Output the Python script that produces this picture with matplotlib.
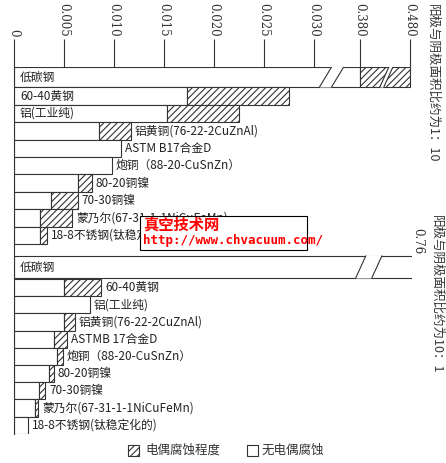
import numpy as np
import matplotlib
matplotlib.use("Agg")
import matplotlib.pyplot as plt
from matplotlib.patches import Polygon, Rectangle

plt.rcParams['font.family'] = ['Noto Sans CJK SC', 'DejaVu Sans']
plt.rcParams['hatch.linewidth'] = 0.8

labels_a = ["低碳钢", "60-40黄钢", "铝(工业纯)", "铝黄铜(76-22-2CuZnAl)", "ASTM B17合金D",
            "炮铜（88-20-CuSnZn）", "80-20铜镍", "70-30铜镍", "蒙乃尔(67-31-1-1NiCuFeMn)", "18-8不锈钢(钛稳定化的)"]
no_gal_a = [0.380, 0.0173, 0.0153, 0.0085, 0.0107, 0.0098, 0.0064, 0.0037, 0.0026, 0.0026]
total_a = [0.480, 0.0275, 0.0225, 0.0117, 0.0107, 0.0098, 0.0078, 0.0064, 0.0058, 0.0033]

labels_b = ["低碳钢", "60-40黄钢", "铝(工业纯)", "铝黄铜(76-22-2CuZnAl)", "ASTMB 17合金D",
            "炮铜（88-20-CuSnZn）", "80-20铜镍", "70-30铜镍", "蒙乃尔(67-31-1-1NiCuFeMn)", "18-8不锈钢(钛稳定化的)"]
no_gal_b = [0.76, 0.0050, 0.0076, 0.0050, 0.0040, 0.0043, 0.0035, 0.0025, 0.0021, 0.0014]
total_b = [0.76, 0.0087, 0.0076, 0.0061, 0.0053, 0.0049, 0.0040, 0.0031, 0.0024, 0.0014]

ticks = [0, 0.005, 0.010, 0.015, 0.020, 0.025, 0.030, 0.380, 0.480]
tick_labels = ["0", "0.005", "0.010", "0.015", "0.020", "0.025", "0.030", "0.380", "0.480"]

kv = [0, 0.0318, 0.324, 1.0]
kp = [0, 316, 316.001, 654]
fwd = lambda v: np.interp(v, kv, kp)
inv = lambda p: np.interp(p, kp, kv)

W, H = 446, 463
fig = plt.figure(figsize=(W/100, H/100), dpi=100)
fig.patch.set_facecolor('white')
ax = fig.add_axes([14/W, (H-434)/H, (412-14)/W, (434-67)/H])
ax.set_xscale('function', functions=(fwd, inv))
ax.set_xlim(0, inv(396))
ax.set_ylim(434, 67)
for s in ['top', 'right', 'bottom']:
    ax.spines[s].set_visible(False)
ax.spines['left'].set_color('#333')
ax.yaxis.set_visible(False)
ax.xaxis.tick_top()
ax.set_xticks(ticks)
ax.set_xticklabels(tick_labels, rotation=-90, fontsize=8.5, family='DejaVu Serif', color='#333')
ax.tick_params(axis='x', length=20, width=0.8, color='#333', pad=2)
ax.minorticks_off()

ec = '#333'
ya = [77] + [96 + 17.4*i for i in range(9)]
ha = [20] + [17.4]*9
yb = [267] + [287.5 + 17.2*i for i in range(9)]
hb = [22] + [17.2]*9

def draw_group(ys, hs, labels, ng, tot, inside):
    for i, (y, h) in enumerate(zip(ys, hs)):
        ax.barh(y, ng[i], height=h, color='white', edgecolor=ec, lw=0.8)
        if tot[i] > ng[i]:
            ax.barh(y, tot[i]-ng[i], left=ng[i], height=h, color='white', edgecolor=ec,
                    hatch='/////', lw=0.8)
        if i < inside:
            ax.text(inv(6), y, labels[i], va='center', ha='left', fontsize=8.5, color='#222')
        else:
            ax.text(inv(fwd(tot[i]) + 4), y, labels[i], va='center', ha='left', fontsize=8.5, color='#222')

draw_group(ya, ha, labels_a, no_gal_a, total_a, 3)
draw_group(yb, hb, labels_b, no_gal_b, total_b, 1)

def brk(y, h, a, s, w):
    y0, y1 = y - h/2 - 0.5, y + h/2 + 0.5
    pts = [(inv(a), y1), (inv(a+s), y0), (inv(a+s+w), y0), (inv(a+w), y1)]
    ax.add_patch(Polygon(pts, closed=True, facecolor='white', edgecolor='none', zorder=3))
    ax.plot([inv(a), inv(a+s)], [y1-0.5, y0+0.5], color=ec, lw=0.8, zorder=4)
    ax.plot([inv(a+w), inv(a+s+w)], [y1-0.5, y0+0.5], color=ec, lw=0.8, zorder=4)

brk(ya[0], ha[0], 304, 12, 12)
brk(ya[0], ha[0], 364, 9, 4)
brk(yb[0], hb[0], 340, 10, 16)

# right side annotations
fig.text(433/W, 1-4/H, "阳极与阴极面积比约为1：10", rotation=-90, va='top', ha='center', fontsize=9, color='#333')
fig.text(437/W, 1-215/H, "阳极与阴极面积比约为10：1", rotation=-90, va='top', ha='center', fontsize=9, color='#333')
fig.text(418/W, 1-228/H, "0.76", rotation=-90, va='top', ha='center', fontsize=8.5, family='DejaVu Serif', color='#333')

# legend
fig.patches.append(Rectangle((128/W, 1-456/H), 11/W, 11/H, transform=fig.transFigure,
                             facecolor='white', edgecolor=ec, hatch='/////', lw=0.8))
fig.text(145/W, 1-450/H, "电偶腐蚀程度", va='center', ha='left', fontsize=9, color='#333')
fig.patches.append(Rectangle((247/W, 1-456/H), 11/W, 11/H, transform=fig.transFigure,
                             facecolor='white', edgecolor=ec, lw=0.8))
fig.text(262/W, 1-450/H, "无电偶腐蚀", va='center', ha='left', fontsize=9, color='#333')

# watermark
fig.patches.append(Rectangle((140/W, 1-250/H), 167/W, 34/H, transform=fig.transFigure,
                             facecolor='white', edgecolor='black', lw=0.8, zorder=10))
fig.text(143/W, 1-225/H, "真空技术网", va='center', ha='left', fontsize=11, color='red', weight='bold', zorder=11)
fig.text(143/W, 1-240/H, "http://www.chvacuum.com/", va='center', ha='left', fontsize=9,
         color='red', weight='bold', family='DejaVu Sans Mono', zorder=11)

fig.savefig("out.png", dpi=100, facecolor='white')
